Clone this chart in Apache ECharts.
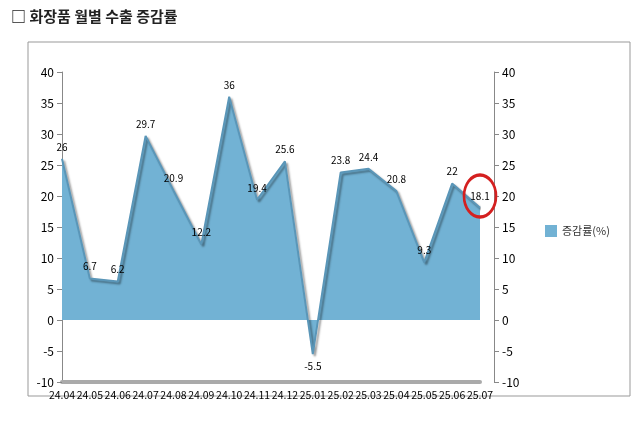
<!DOCTYPE html>
<html><head><meta charset="utf-8">
<script src="https://cdn.jsdelivr.net/npm/echarts@6/dist/echarts.min.js"></script>
<style>body{margin:0;background:#fff}#c{width:640px;height:426px}</style></head>
<body><div id="c"></div>
<script>
const categories=['24.04','24.05','24.06','24.07','24.08','24.09','24.10','24.11','24.12','25.01','25.02','25.03','25.04','25.05','25.06','25.07'];
const values=[26,6.7,6.2,29.7,20.9,12.2,36,19.4,25.6,-5.5,23.8,24.4,20.8,9.3,22,18.1];
const seriesName='증감률(%)';
const chart=echarts.init(document.getElementById('c'));
const axisCommon={min:-10,max:40,interval:5,axisLine:{show:true,lineStyle:{color:'#888'}},axisTick:{show:true,lineStyle:{color:'#888'}},axisLabel:{color:'#000',fontSize:12,fontFamily:'Noto Sans CJK KR'},splitLine:{show:false}};
chart.setOption({
 title:{text:'□ 화장품 월별 수출 증감률',left:6,top:4,textStyle:{fontSize:15,fontWeight:'bold',color:'#222',fontFamily:'Noto Sans CJK KR'}},
 graphic:[{type:'rect',shape:{x:28,y:42,width:602,height:354},style:{fill:'none',stroke:'#999',lineWidth:1}}],
 legend:{data:[{name:seriesName,icon:'rect',itemStyle:{color:'#72b2d4'}}],orient:'vertical',left:540,top:220,itemWidth:12,itemHeight:12,textStyle:{fontSize:11,color:'#333',fontFamily:'Noto Sans CJK KR'}},
 grid:{left:62,right:160,top:72,bottom:44},
 xAxis:{type:'category',data:categories,boundaryGap:false,axisLine:{onZero:false,lineStyle:{color:'#aaa',width:4}},axisTick:{show:false},axisLabel:{interval:0,color:'#000',fontSize:10.5,margin:8,fontFamily:'Noto Sans CJK KR'}},
 yAxis:[Object.assign({position:'left'},axisCommon),Object.assign({position:'right',offset:14},axisCommon)],
 series:[{name:seriesName,type:'line',data:values.map(v=>v<0?{value:v,label:{position:'bottom'}}:v),symbol:'circle',symbolSize:2,showSymbol:true,showAllSymbol:true,color:'#72b2d4',
  itemStyle:{color:'rgba(0,0,0,0)',borderWidth:0},
  lineStyle:{color:'#5a96b8',width:2,shadowColor:'rgba(0,0,0,0.4)',shadowOffsetX:2,shadowOffsetY:2,shadowBlur:2},
  areaStyle:{color:'#72b2d4',opacity:1,origin:0},
  label:{show:true,position:'top',distance:6,color:'#000',fontSize:10,fontFamily:'Noto Sans CJK KR'},
  labelLayout:{hideOverlap:false},
  markPoint:{symbol:'circle',symbolSize:[32,42],label:{show:false},itemStyle:{color:'rgba(0,0,0,0)',borderColor:'#d42020',borderWidth:3},data:[{coord:['25.07',20]}]}
 }]
});
</script></body></html>
